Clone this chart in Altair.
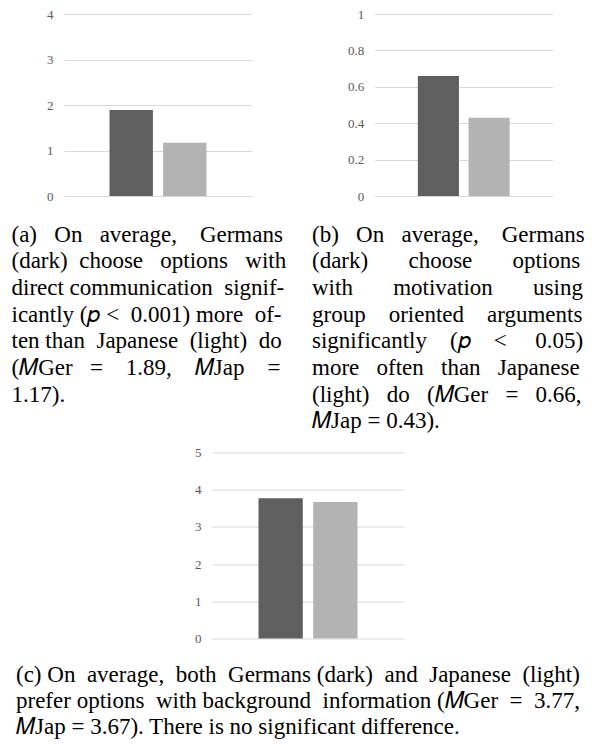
import altair as alt
import pandas as pd

groups = ["Germans", "Japanese"]
colors = ["#5f5f5f", "#b3b3b3"]

means_a = [1.89, 1.17]
means_b = [0.66, 0.43]
means_c = [3.77, 3.67]

ticks_a = [0, 1, 2, 3, 4]
ticks_b = [0, 0.2, 0.4, 0.6, 0.8, 1]
ticks_c = [0, 1, 2, 3, 4, 5]

caption_a = [
    "(a) On average, Germans",
    "(dark) choose options with",
    "direct communication signif-",
    "icantly (\U0001D45D < 0.001) more of-",
    "ten than Japanese (light) do",
    "(\U0001D440Ger = 1.89, \U0001D440Jap =",
    "1.17).",
]
caption_b = [
    "(b) On average, Germans",
    "(dark) choose options",
    "with motivation using",
    "group oriented arguments",
    "significantly (\U0001D45D < 0.05)",
    "more often than Japanese",
    "(light) do (\U0001D440Ger = 0.66,",
    "\U0001D440Jap = 0.43).",
]
caption_c = [
    "(c) On average, both Germans (dark) and Japanese (light)",
    "prefer options with background information (\U0001D440Ger = 3.77,",
    "\U0001D440Jap = 3.67). There is no significant difference.",
]

SERIF = "Liberation Serif"
FS = 23
LINE = 26.67
LINE_C = 26.0

# Times / Liberation Serif advance widths (1/1000 em), used to justify lines
_W = {" ": 250, "(": 333, ")": 333, ",": 250, ".": 250, "-": 333, "=": 564, "<": 564,
      "a": 444, "b": 500, "c": 444, "d": 500, "e": 444, "f": 333, "g": 500, "h": 500,
      "i": 278, "j": 278, "k": 500, "l": 278, "m": 778, "n": 500, "o": 500, "p": 500,
      "q": 500, "r": 333, "s": 389, "t": 278, "u": 500, "v": 500, "w": 722, "x": 500,
      "y": 500, "z": 444, "G": 722, "J": 389, "M": 889, "O": 722, "T": 611,
      "\U0001D440": 863, "\U0001D45D": 635}


def _width(s):
    return sum(_W.get(ch, 500) for ch in s) / 1000 * FS


def justify(lines, target):
    out = []
    for idx, line in enumerate(lines):
        words = line.split(" ")
        gaps = len(words) - 1
        if idx == len(lines) - 1 or gaps == 0:
            out.append(line)
            continue
        n = max(0, int((target - _width(line)) // (0.25 * FS)))
        s = words[0]
        for i in range(1, len(words)):
            k = (n * i) // gaps - (n * (i - 1)) // gaps
            s += " " + "\u00a0" * k + words[i]
        out.append(s)
    return out


def spacer(width, height):
    return (
        alt.Chart(pd.DataFrame({"t": [""]}))
        .mark_text()
        .encode(text="t:N")
        .properties(width=width, height=height)
    )


def bar_panel(values, ticks, width, height):
    df = pd.DataFrame({"group": groups, "mean": values})
    return (
        alt.Chart(df)
        .mark_bar()
        .encode(
            x=alt.X(
                "group:N",
                scale=alt.Scale(domain=groups, paddingInner=0.19, paddingOuter=0.85),
                axis=None,
            ),
            y=alt.Y(
                "mean:Q",
                scale=alt.Scale(domain=[ticks[0], ticks[-1]], nice=False),
                axis=alt.Axis(
                    values=ticks,
                    format="~g",
                    grid=True,
                    gridColor="#d9d9d9",
                    gridWidth=1,
                    domain=False,
                    ticks=False,
                    labelPadding=11,
                    labelFont=SERIF,
                    labelFontSize=13,
                    labelColor="#595959",
                    title=None,
                ),
            ),
            color=alt.Color(
                "group:N", scale=alt.Scale(domain=groups, range=colors), legend=None
            ),
        )
        .properties(width=width, height=height)
    )


def caption_panel(lines, nmax, width, step, dx):
    df = pd.DataFrame({"line": list(range(len(lines))), "text": lines})
    return (
        alt.Chart(df)
        .mark_text(
            align="left",
            baseline="alphabetic",
            font=SERIF,
            fontSize=FS,
            color="#000000",
            dx=dx,
        )
        .encode(
            x=alt.value(0),
            y=alt.Y(
                "line:Q",
                scale=alt.Scale(domain=[0, nmax], reverse=True, nice=False, zero=False),
                axis=None,
            ),
            text="text:N",
        )
        .properties(width=width, height=step * nmax)
    )


chart_a = bar_panel(means_a, ticks_a, 188, 182)
chart_b = bar_panel(means_b, ticks_b, 178, 182)
chart_c = bar_panel(means_c, ticks_c, 192, 186)

cap_a = caption_panel(justify(caption_a, 275), 7, 290, LINE, 3.5)
cap_b = caption_panel(justify(caption_b, 273), 7, 240, LINE, 3.5)
cap_c = caption_panel(justify(caption_c, 568), 2, 500, LINE_C, 8)

row1 = alt.hconcat(spacer(37.5, 182), alt.hconcat(chart_a, chart_b, spacing=94.75), spacing=0)
row2 = alt.hconcat(cap_a, cap_b, spacing=10.5)
row3 = alt.hconcat(spacer(185.5, 186), chart_c, spacing=0)
row4 = cap_c

top = alt.concat(row1, row2, columns=1, spacing=20.8, align="none")
bottom = alt.concat(row3, row4, columns=1, spacing=18.8, align="none")

chart = (
    alt.concat(top, bottom, columns=1, spacing=12.5, align="none")
    .properties(padding=0)
    .configure_view(stroke=None)
)

chart.save("out.html", embed_options={"renderer": "svg", "actions": False})
